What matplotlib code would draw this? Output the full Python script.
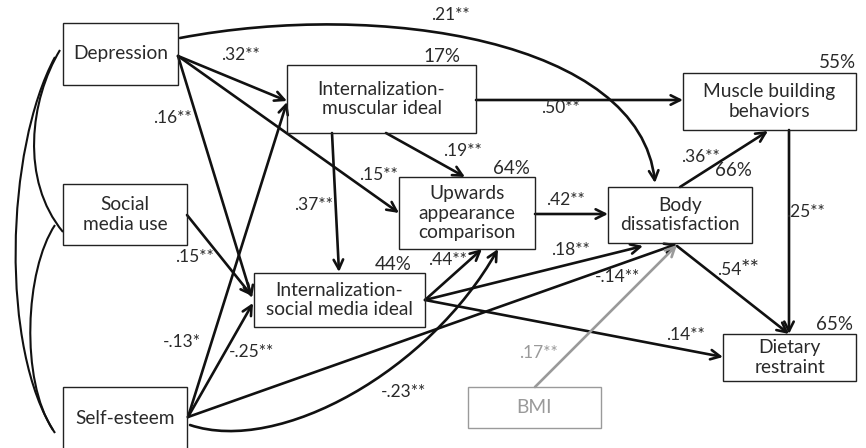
import matplotlib
matplotlib.use("Agg")
import matplotlib.pyplot as plt
from matplotlib.patches import Rectangle, FancyArrowPatch, PathPatch
from matplotlib.path import Path

plt.rcParams['font.family'] = ['Lato', 'DejaVu Sans']

# ---------------- data ----------------
node_names = ["dep", "smu", "se", "imi", "uac", "ismi", "bd", "mbb", "dr", "bmi"]
node_labels = ["Depression", "Social\nmedia use", "Self-esteem",
               "Internalization-\nmuscular ideal", "Upwards\nappearance\ncomparison",
               "Internalization-\nsocial media ideal", "Body\ndissatisfaction",
               "Muscle building\nbehaviors", "Dietary\nrestraint", "BMI"]
r2_nodes = ["imi", "uac", "ismi", "bd", "mbb", "dr"]
r2_labels = ["17%", "64%", "44%", "66%", "55%", "65%"]
path_from = ["dep", "dep", "dep", "dep", "imi", "imi", "imi", "ismi", "se", "se", "se",
             "se", "ismi", "ismi", "uac", "bd", "bd", "mbb", "bmi", "smu"]
path_to = ["imi", "uac", "ismi", "bd", "mbb", "uac", "ismi", "uac", "uac", "imi", "ismi",
           "bd", "bd", "dr", "bd", "mbb", "dr", "dr", "bd", "ismi"]
path_coef = [".32**", ".15**", ".16**", ".21**", ".50**", ".19**", ".37**", ".44**",
             "-.23**", "-.13*", "-.25**", "-.14**", ".18**", ".14**", ".42**", ".36**",
             ".54**", ".25**", ".17**", ".15**"]

# ---------------- layout (pixels, y downward) ----------------
boxes = {  # x0, y0, x1, y1
    "dep": (63, 23, 178, 85), "smu": (63, 184, 187, 245), "se": (63, 387, 187, 449),
    "imi": (287, 65, 476, 133), "uac": (399, 177, 535, 249), "ismi": (254, 273, 425, 327),
    "bd": (608, 187, 752, 243), "mbb": (683, 73, 856, 130), "dr": (723, 334, 856, 381),
    "bmi": (468, 387, 601, 428),
}
r2_pos = {"imi": (460, 56), "uac": (530, 168), "ismi": (412, 264), "bd": (752, 171),
          "mbb": (856, 63), "dr": (853, 325)}

# straight arrows: start, end, label pos
straight = {
    ("dep", "imi"): ((178, 56), (287, 101), (240, 55)),
    ("dep", "uac"): ((178, 56), (399, 213), (378, 175)),
    ("dep", "ismi"): ((178, 56), (252, 298), (172, 118)),
    ("imi", "mbb"): ((476, 100), (683, 100), (560, 108)),
    ("imi", "uac"): ((386, 133), (465, 177), (462, 151)),
    ("imi", "ismi"): ((332, 133), (339, 272), (313, 205)),
    ("ismi", "uac"): ((425, 300), (482, 249), (447, 260)),
    ("se", "imi"): ((188, 417), (287, 102), (182, 342)),
    ("se", "ismi"): ((188, 417), (253, 303), (252, 352)),
    ("se", "bd"): ((188, 417), (677, 244), (618, 277)),
    ("ismi", "bd"): ((425, 300), (643, 246), (570, 250)),
    ("ismi", "dr"): ((425, 300), (723, 357), (685, 335)),
    ("uac", "bd"): ((535, 214), (608, 214), (565, 200)),
    ("bd", "mbb"): ((680, 187), (768, 131), (700, 157)),
    ("bd", "dr"): ((677, 246), (789, 334), (738, 270)),
    ("mbb", "dr"): ((789, 130), (789, 334), (808, 212)),
    ("bmi", "bd"): ((535, 387), (677, 245), (538, 353)),
    ("smu", "ismi"): ((187, 215), (252, 296), (194, 257)),
}
curved = {
    ("dep", "bd"): ([(180, 38), (380, 0), (640, 40), (655, 183)], (450, 15)),
    ("se", "uac"): ([(190, 425), (280, 455), (430, 370), (498, 249)], (403, 392)),
}
correlations = [
    [(60, 50), (30, 100), (20, 180), (63, 232)],
    [(55, 57), (5, 150), (0, 350), (55, 433)],
    [(55, 225), (25, 270), (20, 380), (53, 430)],
]

W, H = 866, 448
fig = plt.figure(figsize=(W / 100, H / 100), dpi=100)
ax = fig.add_axes([0, 0, 1, 1])
ax.set_xlim(0, W)
ax.set_ylim(H, 0)
ax.axis("off")

GRAY = "#9a9a9a"
TXT = "#2a2a2a"
LW = 1.9

# boxes
for name, label in zip(node_names, node_labels):
    x0, y0, x1, y1 = boxes[name]
    col = GRAY if name == "bmi" else "#222222"
    ax.add_patch(Rectangle((x0, y0), x1 - x0, y1 - y0, fill=False, ec=col, lw=1.0, zorder=3))
    cy = (y0 + y1) / 2 if name != "se" else 418
    ax.text((x0 + x1) / 2, cy, label, ha="center", va="center", fontsize=13.8,
            color=(GRAY if name == "bmi" else TXT), linespacing=1.2, zorder=4)

for name, lab in zip(r2_nodes, r2_labels):
    x, y = r2_pos[name]
    ax.text(x, y, lab, ha="right", va="center", fontsize=13.5, color=TXT)

# correlations
for pts in correlations:
    p = Path(pts, [Path.MOVETO, Path.CURVE4, Path.CURVE4, Path.CURVE4])
    ax.add_patch(PathPatch(p, fill=False, ec="#111111", lw=1.5))

# paths
CF = 12.5
for f, t, c in zip(path_from, path_to, path_coef):
    col = GRAY if f == "bmi" else "#111111"
    if (f, t) in straight:
        p0, p1, lp = straight[(f, t)]
        ar = FancyArrowPatch(p0, p1, arrowstyle="->", mutation_scale=17, lw=LW,
                             color=col, shrinkA=0, shrinkB=0, zorder=2)
    else:
        pts, lp = curved[(f, t)]
        pp = Path(pts, [Path.MOVETO, Path.CURVE4, Path.CURVE4, Path.CURVE4])
        ar = FancyArrowPatch(path=pp, arrowstyle="->", mutation_scale=17, lw=LW,
                             color=col, shrinkA=0, shrinkB=0, zorder=2)
    ax.add_patch(ar)
    if c == ".54**":
        ax.text(lp[0] + 3, lp[1], c[:3], ha="right", va="center", fontsize=CF, color=TXT)
        ax.text(lp[0] + 3, lp[1] - 1, c[3:], ha="left", va="center", fontsize=16, color=TXT)
    elif c == ".25**":
        ax.text(lp[0] - 22, lp[1], c, ha="left", va="center", fontsize=CF, color=TXT)
    else:
        ax.text(lp[0], lp[1], c, ha="center", va="center", fontsize=CF,
                color=(GRAY if f == "bmi" else TXT))

fig.savefig("out.png", dpi=100)
